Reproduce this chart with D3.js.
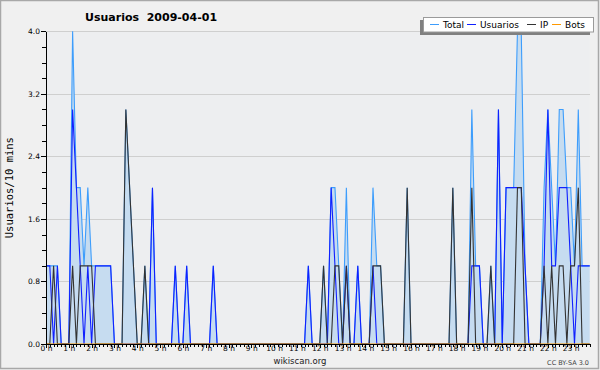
<!DOCTYPE html>
<meta charset="utf-8">
<title>Usuarios 2009-04-01</title>
<style>
body { margin: 0; background: #f0f0f0; }
svg { display: block; font-family: "DejaVu Sans", sans-serif; }
.axis path, .axis line { stroke: #000; shape-rendering: crispEdges; }
.axis text { fill: #000; }
.grid line { stroke: #cfcfcf; shape-rendering: crispEdges; }
</style>
<svg width="600" height="370"></svg>
<script src="https://d3js.org/d3.v7.min.js"></script>
<script>
// one value every 10 minutes, 6 per hour, 0 h -> 23 h
var total = [
  1,1,1,1,0,0,  0,4,2,2,1,2,  1,1,1,1,1,1,  0,0,0,3,2,1,
  0,0,1,0,2,0,  0,0,0,0,1,0,  0,1,0,0,0,0,  0,0,1,0,0,0,
  0,0,0,0,0,0,  0,0,0,0,0,0,  0,0,0,0,0,0,  0,0,0,1,0,0,
  0,1,0,2,2,1,  0,2,0,0,1,0,  0,0,2,1,1,0,  0,0,0,0,0,2,
  0,0,0,0,0,0,  0,0,0,0,0,2,  0,0,0,0,3,1,  1,0,0,1,0,3,
  0,2,2,2,4,4,  1,0,0,0,0,2,  3,2,1,3,3,2,  2,1,3,1,1,1
];
var usuarios = [
  1,1,0,1,0,0,  0,3,2,1,0,1,  0,1,1,1,1,1,  0,0,0,0,0,0,
  0,0,0,0,2,0,  0,0,0,0,1,0,  0,1,0,0,0,0,  0,0,1,0,0,0,
  0,0,0,0,0,0,  0,0,0,0,0,0,  0,0,0,0,0,0,  0,0,0,1,0,0,
  0,0,0,2,1,0,  0,1,0,0,1,0,  0,0,1,0,0,0,  0,0,0,0,0,0,
  0,0,0,0,0,0,  0,0,0,0,0,0,  0,0,0,0,1,1,  1,0,0,0,0,3,
  0,2,2,2,2,2,  1,0,0,0,0,1,  3,1,1,2,2,2,  1,0,1,1,1,1
];
var ip = [
  0,0,1,0,0,0,  0,1,0,1,1,1,  1,0,0,0,0,0,  0,0,0,3,2,1,
  0,0,1,0,0,0,  0,0,0,0,0,0,  0,0,0,0,0,0,  0,0,0,0,0,0,
  0,0,0,0,0,0,  0,0,0,0,0,0,  0,0,0,0,0,0,  0,0,0,0,0,0,
  0,1,0,0,1,1,  0,1,0,0,0,0,  0,0,1,1,1,0,  0,0,0,0,0,2,
  0,0,0,0,0,0,  0,0,0,0,0,2,  0,0,0,0,2,0,  0,0,0,1,0,0,
  0,0,0,0,2,2,  0,0,0,0,0,1,  0,1,0,1,1,0,  1,1,2,0,0,0
];
var bots = [
  0,0,0,0,0,0,  0,0,0,0,0,0,  0,0,0,0,0,0,  0,0,0,0,0,0,
  0,0,0,0,0,0,  0,0,0,0,0,0,  0,0,0,0,0,0,  0,0,0,0,0,0,
  0,0,0,0,0,0,  0,0,0,0,0,0,  0,0,0,0,0,0,  0,0,0,0,0,0,
  0,0,0,0,0,0,  0,0,0,0,0,0,  0,0,0,0,0,0,  0,0,0,0,0,0,
  0,0,0,0,0,0,  0,0,0,0,0,0,  0,0,0,0,0,0,  0,0,0,0,0,0,
  0,0,0,0,0,0,  0,0,0,0,0,0,  0,0,0,0,0,0,  0,0,0,0,0,0
];
var hourLabels = ["0 h","1 h","2 h","3 h","4 h","5 h","6 h","7 h","8 h","9 h","10 h","11 h",
                  "12 h","13 h","14 h","15 h","16 h","17 h","18 h","19 h","20 h","21 h","22 h","23 h"];
var yTicks = [0, 0.8, 1.6, 2.4, 3.2, 4.0];
var seriesNames = ["Total", "Usuarios", "IP", "Bots"];
var seriesColors = ["#3d9dfc", "#1020ff", "#333333", "#ff9900"];

var svg = d3.select("svg"),
    plotLeft = 46, plotRight = 589.7, plotTop = 31.3, plotBottom = 344;

svg.append("rect").attr("x", 0.5).attr("y", 0.5).attr("width", 598).attr("height", 368)
  .attr("fill", "#f0f0f0").attr("stroke", "#a8a8a8").attr("stroke-width", 1.5);
svg.append("rect").attr("x", plotLeft).attr("y", plotTop)
  .attr("width", plotRight - plotLeft).attr("height", plotBottom - plotTop)
  .attr("fill", "#edeef0");

var x = d3.scaleLinear().domain([0, total.length - 1]).range([plotLeft, plotRight]);
var y = d3.scaleLinear().domain([0, 4]).range([plotBottom, plotTop]);

// horizontal grid
svg.append("g").attr("class", "grid")
  .selectAll("line").data(yTicks.slice(1)).enter().append("line")
  .attr("x1", plotLeft).attr("x2", plotRight)
  .attr("y1", function(d) { return Math.round(y(d)) + 0.5; })
  .attr("y2", function(d) { return Math.round(y(d)) + 0.5; });

var area = d3.area()
  .x(function(d, i) { return x(i); })
  .y0(plotBottom)
  .y1(function(d) { return y(d); });

svg.append("path").datum(total)
  .attr("fill", "#c6dcf0")
  .attr("d", area);

var line = d3.line()
  .x(function(d, i) { return x(i); })
  .y(function(d) { return y(d); });

[total, usuarios, ip, bots].forEach(function(s, k) {
  svg.append("path").datum(s)
    .attr("fill", "none")
    .attr("stroke", seriesColors[k])
    .attr("stroke-width", 1.1)
    .attr("d", line);
});

// axes
svg.append("g").attr("class", "axis")
  .attr("transform", "translate(0," + plotBottom + ")")
  .call(d3.axisBottom(x).tickValues(d3.range(0, total.length)).tickSize(3).tickSizeOuter(0).tickFormat(""));

svg.append("g").attr("class", "axis")
  .attr("transform", "translate(0," + plotBottom + ")")
  .call(d3.axisBottom(x).tickValues(hourLabels.map(function(d, i) { return i * 6; }))
    .tickSize(4).tickSizeOuter(0)
    .tickFormat(function(d, i) { return hourLabels[i]; }))
  .call(function(g) { g.select(".domain").remove(); })
  .selectAll("text").attr("y", 2).attr("font-size", 7.5).attr("font-family", "DejaVu Sans");

svg.append("g").attr("class", "axis")
  .attr("transform", "translate(" + plotLeft + ",0)")
  .call(d3.axisLeft(y).tickValues(d3.range(0, 4.01, 0.2)).tickSize(4).tickSizeOuter(0).tickFormat(""));

svg.append("g").attr("class", "axis")
  .attr("transform", "translate(" + plotLeft + ",0)")
  .call(d3.axisLeft(y).tickValues(yTicks).tickSize(5).tickSizeOuter(0).tickPadding(1)
    .tickFormat(d3.format(".1f")))
  .call(function(g) { g.select(".domain").remove(); })
  .selectAll("text").attr("font-size", 7.5).attr("font-family", "DejaVu Sans");

// titles
svg.append("text").attr("x", 85).attr("y", 21)
  .attr("font-size", 11).attr("font-weight", "bold")
  .style("white-space", "pre")
  .text("Usuarios  2009-04-01");

svg.append("text")
  .attr("transform", "translate(13," + ((plotTop + plotBottom) / 2) + ") rotate(-90)")
  .attr("text-anchor", "middle")
  .attr("font-family", "DejaVu Sans Mono").attr("font-size", 10.5)
  .text("Usuarios/10 mins");

svg.append("text").attr("x", 300).attr("y", 364).attr("text-anchor", "middle")
  .attr("font-size", 8.5).attr("fill", "#222").text("wikiscan.org");

svg.append("text").attr("x", 589).attr("y", 365).attr("text-anchor", "end")
  .attr("font-size", 6.5).attr("fill", "#444").text("CC BY-SA 3.0");

// legend
var lg = svg.append("g");
lg.append("rect").attr("x", 420).attr("y", 20).attr("width", 170).attr("height", 15).attr("fill", "#808080");
lg.append("rect").attr("x", 423.5).attr("y", 17.5).attr("width", 170).attr("height", 14.5)
  .attr("fill", "#fff").attr("stroke", "#9a9a9a");

var legendX = [430, 467, 527, 552];
var item = lg.selectAll(".item").data(seriesNames).enter().append("g")
  .attr("transform", function(d, i) { return "translate(" + legendX[i] + ",0)"; });
item.append("line").attr("x1", 0).attr("x2", 9).attr("y1", 24.5).attr("y2", 24.5)
  .attr("stroke", function(d, i) { return seriesColors[i]; });
item.append("text").attr("x", 13).attr("y", 28).attr("font-size", 9).text(function(d) { return d; });
</script>
